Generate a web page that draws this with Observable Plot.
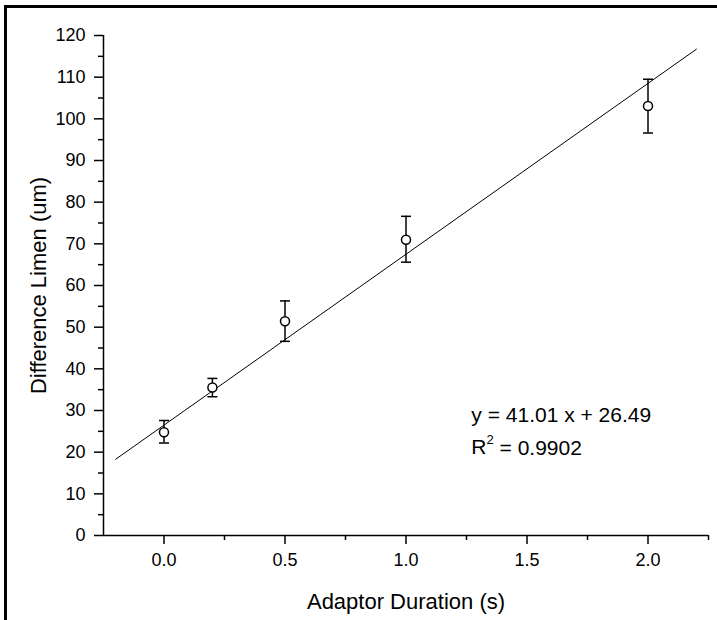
<!DOCTYPE html>
<html><head><meta charset="utf-8">
<script src="https://cdn.jsdelivr.net/npm/d3@7"></script>
<script src="https://cdn.jsdelivr.net/npm/@observablehq/plot@0.6"></script>
<style>
body{margin:0;background:#fff;}
#wrap{position:relative;width:717px;height:620px;overflow:hidden;}
#frame{position:absolute;left:4px;top:5px;width:800px;height:800px;border-left:3px solid #000;border-top:3px solid #000;pointer-events:none;}
#chart{position:absolute;left:0;top:0;}
</style></head><body><div id="wrap"><div id="chart"></div><div id="frame"></div></div>
<script>
// Data
const duration = [0, 0.2, 0.5, 1.0, 2.0];
const limen = [24.8, 35.5, 51.4, 71.0, 103.1];
const errLow = [22.2, 33.3, 46.6, 65.6, 96.6];
const errHigh = [27.6, 37.7, 56.3, 76.6, 109.5];
const fitSlope = 41.01;
const fitIntercept = 26.49;
const fitRange = [-0.2, 2.2];
const xMajorTicks = [0, 0.5, 1.0, 1.5, 2.0];
const xMinorTicks = [0.25, 0.75, 1.25, 1.75, 2.25];
const yMajorTicks = [0, 10, 20, 30, 40, 50, 60, 70, 80, 90, 100, 110, 120];
const yMinorTicks = [5, 15, 25, 35, 45, 55, 65, 75, 85, 95, 105, 115];
const annotText = ["y = 41.01 x + 26.49", "R2 = 0.9902"];
const annotX = [1.27, 1.27];
const annotY = [27.2, 19.6];
const xDomain = [-0.25, 2.25];
const yDomain = [0, 120];

const points = duration.map((d, i) => ({x: d, y: limen[i], lo: errLow[i], hi: errHigh[i]}));
const fit = fitRange.map(x => ({x, y: fitSlope * x + fitIntercept}));
const annot = annotText.map((t, i) => ({t, x: annotX[i], y: annotY[i]}));
const capSymbol = {draw(ctx) { ctx.moveTo(-5, 0); ctx.lineTo(5, 0); }};
const font = "'Liberation Sans', Arial, sans-serif";

const chart = Plot.plot({
  width: 717, height: 620,
  marginLeft: 103, marginRight: 9, marginTop: 35, marginBottom: 85,
  style: {fontFamily: font, background: "transparent", color: "#000"},
  x: {domain: xDomain},
  y: {domain: yDomain},
  marks: [
    Plot.axisX({ticks: xMajorTicks, tickSize: 9, tickPadding: 9, tickFormat: d3.format(".1f"), fontSize: 18, strokeWidth: 1.5, label: null}),
    Plot.axisX({ticks: xMinorTicks, tickSize: 5, tickFormat: () => "", strokeWidth: 1.5, label: null}),
    Plot.axisX({ticks: [], label: "Adaptor Duration (s)", labelAnchor: "center", labelArrow: "none", labelOffset: 73, fontSize: 22}),
    Plot.axisY({ticks: yMajorTicks, tickSize: 9, tickPadding: 9, fontSize: 18, strokeWidth: 1.5, label: null}),
    Plot.axisY({ticks: yMinorTicks, tickSize: 5, tickFormat: () => "", strokeWidth: 1.5, label: null}),
    Plot.axisY({ticks: [], label: "Difference Limen (um)", labelAnchor: "center", labelArrow: "none", labelOffset: 73, fontSize: 22}),
    Plot.ruleY([yDomain[0]], {stroke: "#000", strokeWidth: 1.5}),
    Plot.ruleX([xDomain[0]], {y1: yDomain[0], y2: yDomain[1], stroke: "#000", strokeWidth: 1.5}),
    Plot.line(fit, {x: "x", y: "y", stroke: "#000", strokeWidth: 1}),
    Plot.ruleX(points, {x: "x", y1: "lo", y2: "hi", stroke: "#000", strokeWidth: 1.5}),
    Plot.dot(points, {x: "x", y: "lo", symbol: capSymbol, stroke: "#000", strokeWidth: 1.5}),
    Plot.dot(points, {x: "x", y: "hi", symbol: capSymbol, stroke: "#000", strokeWidth: 1.5}),
    Plot.dot(points, {x: "x", y: "y", r: 4.5, stroke: "#000", fill: "#fff", strokeWidth: 1.5}),
    Plot.text(annot, {x: "x", y: "y", text: "t", textAnchor: "start", lineAnchor: "bottom", fontSize: 21, fill: "#000"})
  ]
});
// Render the "2" of R2 as a superscript
d3.select(chart).selectAll("text").each(function() {
  const el = d3.select(this);
  if (el.text() === "R2 = 0.9902") {
    el.text(null);
    el.append("tspan").text("R");
    el.append("tspan").attr("font-size", 13).attr("dy", "-0.75em").text("2");
    el.append("tspan").attr("dy", "0.5em").text(" = 0.9902");
  }
});
document.getElementById("chart").appendChild(chart);
</script>
</body></html>
